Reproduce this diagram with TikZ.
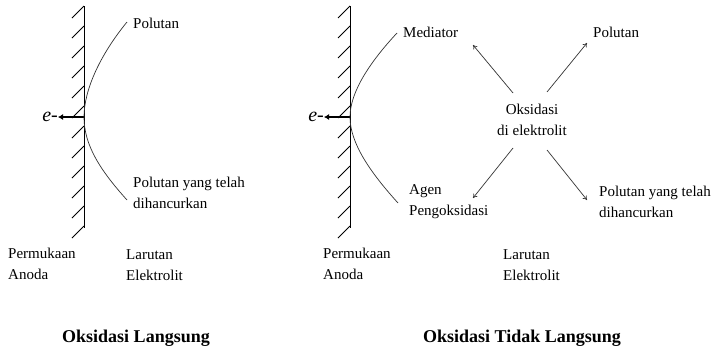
\documentclass[tikz,border=0pt]{standalone}
\usepackage{fontspec}
\setmainfont{Liberation Serif}
\usetikzlibrary{arrows.meta}
\begin{document}
\begin{tikzpicture}[x=1pt,y=-1pt,
  lbl/.style={inner sep=0pt,font=\fontsize{15}{21}\selectfont,align=left},
  ttl/.style={inner sep=0pt,font=\fontsize{18}{22}\selectfont\bfseries},
  wall/.style={line width=1pt},
  hatch/.style={line width=0.8pt},
  curve/.style={line width=0.7pt,black!80},
  arr/.style={line width=0.7pt,black!80,-{To[length=4pt,width=5pt]}},
  eline/.style={line width=2pt,-{Latex[length=5pt,width=6pt]}},
  elbl/.style={inner sep=0pt,font=\fontsize{20}{22}\selectfont}]
\useasboundingbox (0,0) rectangle (717,354);

% ---------- Left: Oksidasi Langsung ----------
\coordinate (Lwt) at (84,6);
\coordinate (Lwb) at (84,228);
\draw[wall] (Lwt) -- (Lwb);
\foreach \yy in {6,26,...,226} \draw[hatch] (84,\yy) -- ++(-12,12);
\coordinate (Lv) at (84,117);
\coordinate (Le) at (58,117);
\draw[eline] (Lv) -- (Le);
\node[elbl,anchor=east] (Leminus) at (58,117) {\textit{e}-};
\coordinate (Lct) at (127,22);
\coordinate (Lcb) at (127,200);
\draw[curve] (Lct) .. controls (100,55) and (84,90) .. (Lv)
             .. controls (84,145) and (100,170) .. (Lcb);
\node[lbl,anchor=west] (Lpol) at (133,23) {Polutan};
\node[lbl,anchor=west] (Lhanc) at (133,193) {Polutan yang telah\\dihancurkan};
\node[lbl,anchor=west] (Lperm) at (8,264) {Permukaan\\Anoda};
\node[lbl,anchor=west] (Llar) at (126,265) {Larutan\\Elektrolit};
\node[ttl] (Ltitle) at (136,338) {Oksidasi Langsung};

% ---------- Right: Oksidasi Tidak Langsung ----------
\coordinate (Rwt) at (350,6);
\coordinate (Rwb) at (350,228);
\draw[wall] (Rwt) -- (Rwb);
\foreach \yy in {6,26,...,226} \draw[hatch] (350,\yy) -- ++(-12,12);
\coordinate (Rv) at (350,117);
\coordinate (Re) at (324,117);
\draw[eline] (Rv) -- (Re);
\node[elbl,anchor=east] (Reminus) at (324,117) {\textit{e}-};
\coordinate (Rct) at (397,33);
\coordinate (Rcb) at (398,203);
\draw[curve] (Rct) .. controls (370,62) and (350,92) .. (Rv)
             .. controls (350,143) and (370,172) .. (Rcb);
\node[lbl,anchor=west] (Rmed) at (403,32) {Mediator};
\node[lbl,anchor=west] (Rpol) at (593,32) {Polutan};
\node[lbl,align=center] (Roks) at (532,120) {Oksidasi\\di elektrolit};
\node[lbl,anchor=west] (Ragen) at (409,202) {Agen\\Pengoksidasi};
\node[lbl,anchor=west] (Rhanc) at (599,202) {Polutan yang telah\\dihancurkan};
\node[lbl,anchor=west] (Rperm) at (323,264) {Permukaan\\Anoda};
\node[lbl,anchor=west] (Rlar) at (503,265) {Larutan\\Elektrolit};
\node[ttl] (Rtitle) at (522,338) {Oksidasi Tidak Langsung};

\coordinate (a1s) at (513,93);  \coordinate (a1e) at (473,45);
\coordinate (a2s) at (547,92);  \coordinate (a2e) at (587,43);
\coordinate (a3s) at (513,148); \coordinate (a3e) at (473,198);
\coordinate (a4s) at (547,150); \coordinate (a4e) at (587,200);
\draw[arr] (a1s) -- (a1e);
\draw[arr] (a2s) -- (a2e);
\draw[arr] (a3s) -- (a3e);
\draw[arr] (a4s) -- (a4e);
\end{tikzpicture}
\end{document}
